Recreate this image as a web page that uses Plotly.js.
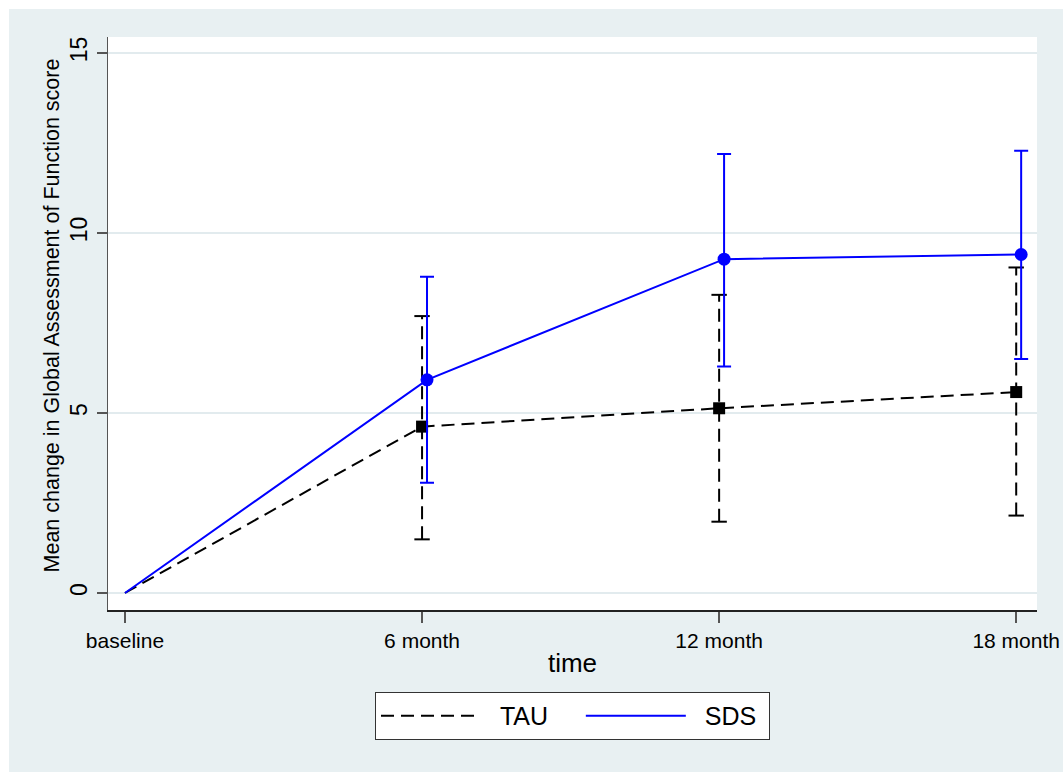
<!DOCTYPE html>
<html>
<head>
<meta charset="utf-8">
<script src="https://cdn.plot.ly/plotly-3.0.1.min.js"></script>
<style>
  html, body { margin: 0; padding: 0; background: #ffffff; }
  #chart { position: absolute; left: 9px; top: 9px; width: 1054px; height: 763px; }
</style>
</head>
<body>
<div id="chart"></div>
<script>
// ---- data ----
const timeLabels = ["baseline", "6 month", "12 month", "18 month"];
const tickMonths = [0, 6, 12, 18];
const seriesNames = ["TAU", "SDS"];
const yTitle = "Mean change in Global Assessment of Function score";

const tauTime  = [0, 6, 12, 18];
const tauMean  = [0, 4.62, 5.13, 5.58];
const tauLower = [null, 1.49, 1.98, 2.15];
const tauUpper = [null, 7.69, 8.28, 9.04];

const sdsTime  = [0, 6.1, 12.1, 18.1];
const sdsMean  = [0, 5.92, 9.27, 9.40];
const sdsLower = [null, 3.06, 6.29, 6.50];
const sdsUpper = [null, 8.78, 12.19, 12.28];

// ---- build traces ----
function ciSegments(t, lo, hi) {
  const xs = [], ys = [];
  for (let i = 0; i < t.length; i++) {
    if (lo[i] === null) continue;
    xs.push(t[i], t[i], null);
    ys.push(lo[i], hi[i], null);
  }
  return {x: xs, y: ys};
}
function ciCaps(t, lo, hi) {
  const xs = [], ys = [];
  for (let i = 0; i < t.length; i++) {
    if (lo[i] === null) continue;
    xs.push(t[i], t[i]);
    ys.push(lo[i], hi[i]);
  }
  return {x: xs, y: ys};
}
const withCI = (arr, lo) => arr.filter((_, i) => lo[i] !== null);

const tauSeg = ciSegments(tauTime, tauLower, tauUpper);
const tauCap = ciCaps(tauTime, tauLower, tauUpper);
const sdsM = withCI(sdsMean, sdsLower);
const DASH = "13px,7px";
const NB = "\u00a0";

const traces = [
  { // TAU CI vertical dashed lines
    x: tauSeg.x, y: tauSeg.y, mode: "lines", showlegend: false, hoverinfo: "skip",
    line: {color: "#000000", width: 2, dash: DASH}
  },
  { // TAU CI caps
    x: tauCap.x, y: tauCap.y, mode: "markers", showlegend: false, hoverinfo: "skip",
    marker: {symbol: "line-ew", size: 11, color: "#000000", line: {color: "#000000", width: 2}}
  },
  { // TAU mean line
    x: tauTime, y: tauMean, mode: "lines", name: NB + NB + seriesNames[0] + NB.repeat(4),
    line: {color: "#000000", width: 2, dash: DASH}
  },
  { // TAU markers
    x: withCI(tauTime, tauLower), y: withCI(tauMean, tauLower), mode: "markers", showlegend: false,
    marker: {symbol: "square", size: 12, color: "#000000"}
  },
  { // SDS mean line
    x: sdsTime, y: sdsMean, mode: "lines", name: NB + NB + seriesNames[1] + NB,
    line: {color: "#0000ff", width: 2}
  },
  { // SDS markers with CI
    x: withCI(sdsTime, sdsLower), y: sdsM, mode: "markers", showlegend: false,
    marker: {symbol: "circle", size: 13, color: "#0000ff"},
    error_y: {
      type: "data", symmetric: false,
      array: withCI(sdsUpper, sdsLower).map((v, i) => v - sdsM[i]),
      arrayminus: withCI(sdsLower, sdsLower).map((v, i) => sdsM[i] - v),
      color: "#0000ff", thickness: 2, width: 7
    }
  }
];

const layout = {
  width: 1054, height: 763,
  margin: {l: 99, r: 26, t: 28, b: 162, pad: 0},
  paper_bgcolor: "#E8F0F2",
  plot_bgcolor: "#ffffff",
  font: {family: "Liberation Sans, Arial, sans-serif", color: "#000000"},
  showlegend: true,
  xaxis: {
    range: [-0.343, 18.42],
    tickmode: "array", tickvals: tickMonths, ticktext: timeLabels,
    ticks: "outside", ticklen: 11, tickwidth: 1.5, tickcolor: "#555555",
    tickfont: {size: 21},
    showgrid: false, zeroline: false,
    showline: true, linecolor: "#222222", linewidth: 1.5,
    title: {text: "time", font: {size: 26}, standoff: 3}
  },
  yaxis: {
    range: [-0.472, 15.44],
    tickmode: "array", tickvals: [0, 5, 10, 15],
    tickangle: -90,
    ticks: "outside", ticklen: 10, tickwidth: 1.5, tickcolor: "#555555",
    tickfont: {size: 23},
    showgrid: true, gridcolor: "#E2EBEE", gridwidth: 1.5,
    zeroline: false,
    showline: true, linecolor: "#555555", linewidth: 1.5
  },
  annotations: [{
    text: yTitle, textangle: -90, showarrow: false,
    xref: "paper", yref: "paper", x: -0.0603, y: 0.514,
    xanchor: "center", yanchor: "middle",
    font: {size: 21.5, color: "#000000"}
  }],
  legend: {
    orientation: "h", x: 0.5, xanchor: "center", y: -0.143, yanchor: "top",
    bgcolor: "#ffffff", bordercolor: "#333333", borderwidth: 1,
    font: {size: 25}, itemwidth: 100,
    traceorder: "normal"
  }
};

Plotly.newPlot("chart", traces, layout, {displayModeBar: false, staticPlot: true});
</script>
</body>
</html>
